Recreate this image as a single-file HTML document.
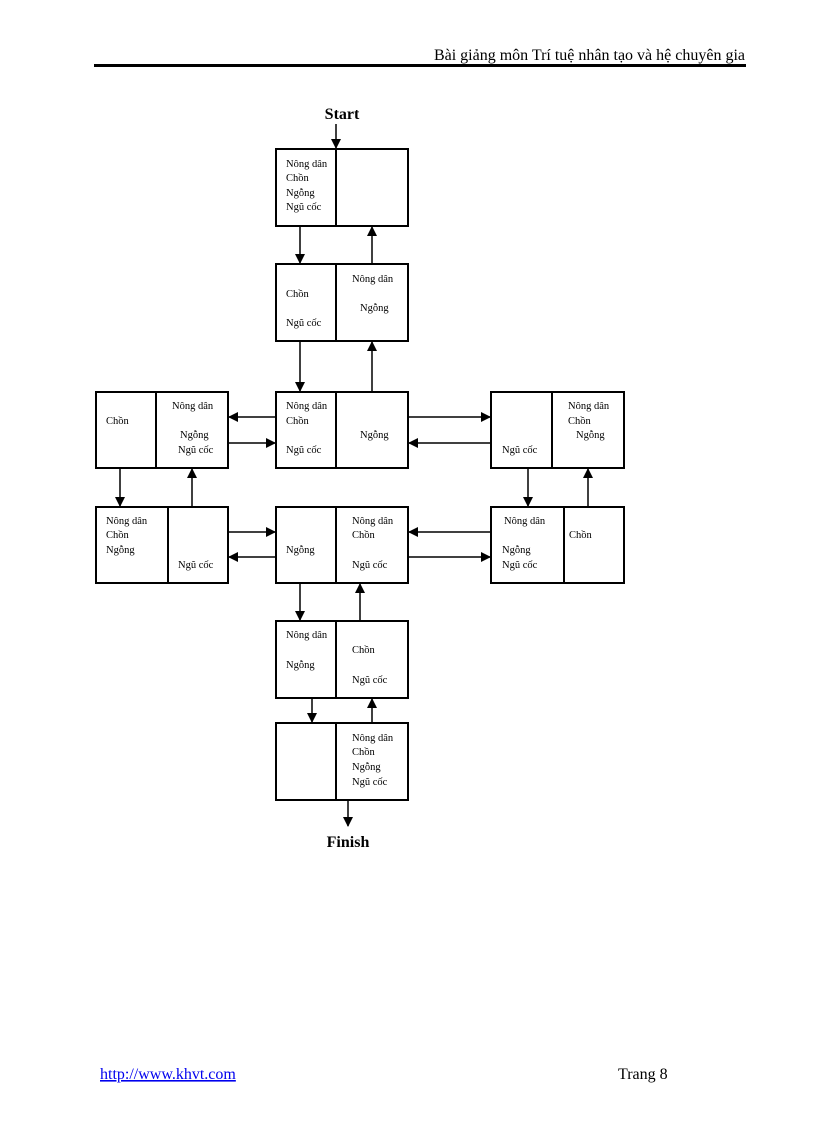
<!DOCTYPE html>
<html><head><meta charset="utf-8"><style>
html,body{margin:0;padding:0;background:#fff;}
svg{display:block;}
text{font-family:"Liberation Serif",serif;fill:#000;}
.b{font-size:10.5px;}
</style></head><body>
<svg width="816" height="1123" viewBox="0 0 816 1123" xmlns="http://www.w3.org/2000/svg">
<defs>
<marker id="a" markerWidth="10" markerHeight="10" refX="9" refY="5" orient="auto" markerUnits="userSpaceOnUse">
<path d="M0,0 L10,5 L0,10 Z" fill="#000"/></marker>
</defs>
<text x="745" y="60" text-anchor="end" font-size="16">Bài giảng môn Trí tuệ nhân tạo và hệ chuyên gia</text>
<rect x="94" y="64" width="652" height="3" fill="#000"/>

<g fill="none" stroke="#000" stroke-width="2">
<rect x="276" y="149" width="132" height="77"/><line x1="336" y1="149" x2="336" y2="226"/>
<rect x="276" y="264" width="132" height="77"/><line x1="336" y1="264" x2="336" y2="341"/>
<rect x="96" y="392" width="132" height="76"/><line x1="156" y1="392" x2="156" y2="468"/>
<rect x="276" y="392" width="132" height="76"/><line x1="336" y1="392" x2="336" y2="468"/>
<rect x="491" y="392" width="133" height="76"/><line x1="552" y1="392" x2="552" y2="468"/>
<rect x="96" y="507" width="132" height="76"/><line x1="168" y1="507" x2="168" y2="583"/>
<rect x="276" y="507" width="132" height="76"/><line x1="336" y1="507" x2="336" y2="583"/>
<rect x="491" y="507" width="133" height="76"/><line x1="564" y1="507" x2="564" y2="583"/>
<rect x="276" y="621" width="132" height="77"/><line x1="336" y1="621" x2="336" y2="698"/>
<rect x="276" y="723" width="132" height="77"/><line x1="336" y1="723" x2="336" y2="800"/>
</g>

<g stroke="#000" stroke-width="1.5" marker-end="url(#a)">
<line x1="336" y1="124" x2="336" y2="148"/>
<line x1="300" y1="227" x2="300" y2="263"/>
<line x1="372" y1="264" x2="372" y2="227"/>
<line x1="300" y1="342" x2="300" y2="391"/>
<line x1="372" y1="392" x2="372" y2="342"/>
<line x1="276" y1="417" x2="229" y2="417"/>
<line x1="229" y1="443" x2="275" y2="443"/>
<line x1="409" y1="417" x2="490" y2="417"/>
<line x1="491" y1="443" x2="409" y2="443"/>
<line x1="120" y1="469" x2="120" y2="506"/>
<line x1="192" y1="507" x2="192" y2="469"/>
<line x1="528" y1="469" x2="528" y2="506"/>
<line x1="588" y1="507" x2="588" y2="469"/>
<line x1="229" y1="532" x2="275" y2="532"/>
<line x1="276" y1="557" x2="229" y2="557"/>
<line x1="491" y1="532" x2="409" y2="532"/>
<line x1="409" y1="557" x2="490" y2="557"/>
<line x1="300" y1="584" x2="300" y2="620"/>
<line x1="360" y1="621" x2="360" y2="584"/>
<line x1="312" y1="699" x2="312" y2="722"/>
<line x1="372" y1="723" x2="372" y2="699"/>
<line x1="348" y1="801" x2="348" y2="826"/>
</g>

<text x="342" y="119" text-anchor="middle" font-size="16" font-weight="bold">Start</text>
<text x="348" y="847" text-anchor="middle" font-size="16" font-weight="bold">Finish</text>

<g class="b">
<text x="286" y="167">Nông dân</text><text x="286" y="181">Chồn</text><text x="286" y="196">Ngỗng</text><text x="286" y="210">Ngũ cốc</text>
<text x="286" y="297">Chồn</text><text x="286" y="326">Ngũ cốc</text>
<text x="352" y="282">Nông dân</text><text x="360" y="311">Ngỗng</text>

<text x="106" y="424">Chồn</text>
<text x="172" y="409">Nông dân</text><text x="180" y="438">Ngỗng</text><text x="178" y="453">Ngũ cốc</text>
<text x="286" y="409">Nông dân</text><text x="286" y="424">Chồn</text><text x="286" y="453">Ngũ cốc</text>
<text x="360" y="438">Ngỗng</text>
<text x="502" y="453">Ngũ cốc</text>
<text x="568" y="409">Nông dân</text><text x="568" y="424">Chồn</text><text x="576" y="438">Ngỗng</text>

<text x="106" y="524">Nông dân</text><text x="106" y="538">Chồn</text><text x="106" y="553">Ngỗng</text>
<text x="178" y="568">Ngũ cốc</text>
<text x="286" y="553">Ngỗng</text>
<text x="352" y="524">Nông dân</text><text x="352" y="538">Chồn</text><text x="352" y="568">Ngũ cốc</text>
<text x="504" y="524">Nông dân</text><text x="502" y="553">Ngỗng</text><text x="502" y="568">Ngũ cốc</text>
<text x="569" y="538">Chồn</text>

<text x="286" y="638">Nông dân</text><text x="286" y="668">Ngỗng</text>
<text x="352" y="653">Chồn</text><text x="352" y="683">Ngũ cốc</text>

<text x="352" y="741">Nông dân</text><text x="352" y="755">Chồn</text><text x="352" y="770">Ngỗng</text><text x="352" y="785">Ngũ cốc</text>
</g>

<text x="100" y="1079" font-size="16" style="fill:#0000ee" text-decoration="underline">http://www.khvt.com</text>
<text x="618" y="1079" font-size="16">Trang  8</text>
</svg>
</body></html>
